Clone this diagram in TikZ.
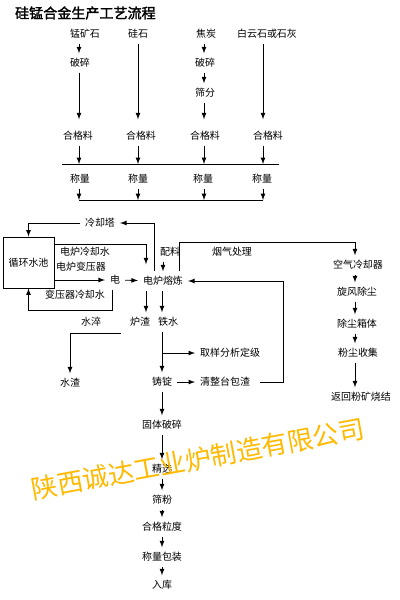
\documentclass[tikz,border=0pt]{standalone}
\usepackage{fontspec}
\setmainfont{Noto Sans CJK SC}[AutoFakeBold=2]
\usetikzlibrary{calc}
\definecolor{markorange}{RGB}{255,185,0}
\begin{document}
\begin{tikzpicture}[x=0.025cm, y=-0.025cm, line width=0.6pt,
  every node/.style={font=\fontsize{7.1}{8}\selectfont},
  pool/.style={draw, minimum width=1.275cm, minimum height=1.275cm}]
\useasboundingbox (0,0) rectangle (400,600);
\node[anchor=west, font=\fontsize{10}{12}\selectfont\bfseries] (title) at (10,13) {硅锰合金生产工艺流程};

% raw materials
\coordinate (c1) at (79,0);
\coordinate (c2) at (138,0);
\coordinate (c3) at (204,0);
\coordinate (c4) at (263,0);
\node (mn) at (85,34) {锰矿石};
\node (gs) at (138,34) {硅石};
\node (jt) at (206,34) {焦炭};
\node (by) at (267,34) {白云石或石灰};
\node (pa) at (80,63) {破碎};
\node (pb) at (205,63) {破碎};
\node (sf) at (205,93) {筛分};
\node (hg1) at (78,136) {合格料};
\node (hg2) at (141,136) {合格料};
\node (hg3) at (205,136) {合格料};
\node (hg4) at (268,136) {合格料};
\draw[-latex] (c1 |- mn.south) -- (c1 |- pa.north);
\draw[-latex] (c1 |- pa.south) -- ($(c1 |- hg1.north)+(0,-7)$);
\draw[-latex] (c2 |- gs.south) -- ($(c2 |- hg2.north)+(0,-7)$);
\draw[-latex] (c3 |- jt.south) -- (c3 |- pb.north);
\draw[-latex] (c3 |- pb.south) -- (c3 |- sf.north);
\draw[-latex] (c3 |- sf.south) -- ($(c3 |- hg3.north)+(0,-7)$);
\draw[-latex] (c4 |- by.south) -- ($(c4 |- hg4.north)+(0,-7)$);

% weighing
\coordinate (b1w) at (62,164);
\coordinate (b1e) at (279,164);
\coordinate (b2w) at (79,200);
\draw (b1w) -- (b1e);
\node (cl1) at (80,179) {称量};
\node (cl2) at (138,179) {称量};
\node (cl3) at (203,179) {称量};
\node (cl4) at (262,179) {称量};
\foreach \n/\c in {hg1/c1,hg2/c2,hg3/c3,hg4/c4}
  \draw[-latex] (\c |- \n.south) -- (\c |- b1w);
\foreach \n/\c in {cl1/c1,cl2/c2,cl3/c3,cl4/c4}
  \draw[-latex] (\c |- \n.south) -- (\c |- b2w);
\draw (b2w) -- (c4 |- b2w);

% furnace and water loop
\node (lqt) at (100,223) {冷却塔};
\node[pool] (pool) at (28.5,262.5) {循环水池};
\node (w1) at (85,252) {电炉冷却水};
\node (w2) at (81,267) {电炉变压器};
\node (w3) at (75,295) {变压器冷却水};
\node (dl) at (115,280) {电};
\node (dlrl) at (163,281) {电炉熔炼};
\node (pl) at (170,252) {配料};
\node (yq) at (232,252) {烟气处理};
\draw[-latex] ($(dlrl.north)+(-9,0)$) |- (lqt.east);
\draw[-latex] (lqt.west) -| (pool.north);
\draw[-latex] ($(pool.north east)+(0,8)$) -| ($(dlrl.north)+(-17,-7)$);
\draw[-latex] (pool.east |- dl) -- (dl.west);
\draw[-latex] (dl) -- (dlrl);
\draw[-latex] ($(dl.south)+(-3,0)$) -- ++(0,21) -| (pool.south);
\draw[-latex] (dlrl.north |- pl.south) -- (dlrl.north);

% dust
\coordinate (c5) at (355,0);
\node (kq) at (358,265) {空气冷却器};
\node (xf) at (357,292) {旋风除尘};
\node (cx) at (357,324) {除尘箱体};
\node (fc) at (358,353) {粉尘收集};
\node (fh) at (361,397) {返回粉矿烧结};
\draw[-latex] ($(dlrl.north)+(16,0)$) -- ++(0,-29) -| (c5 |- kq.north);
\foreach \a/\b in {kq/xf,xf/cx,cx/fc,fc/fh}
  \draw[-latex] (c5 |- \a.south) -- (c5 |- \b.north);

% products
\node (lz) at (140,322) {炉渣};
\node (ts) at (168,322) {铁水};
\node (sc) at (91,322) {水淬};
\node (sz) at (70,383) {水渣};
\node (zd) at (162,382) {铸锭};
\node[anchor=west] (qy) at (195,353) {取样分析定级};
\node[anchor=west] (qz) at (195,382) {清整台包渣};
\draw[-latex] ($(dlrl.south)+(-17,0)$) -- ($(lz.north)+(6,0)$);
\draw[-latex] ($(dlrl.south)+(-1,0)$) -- ($(ts.north)+(-6,0)$);
\draw[-latex] ($(lz.south west)+(-4,2)$) -| (sz.north);
\draw[-latex] ($(ts.south)+(-6,0)$) -- (zd.north);
\draw[-latex] (zd.north |- qy.west) -- (qy.west);
\draw[-latex] (zd.east) -- (qz.west);
\draw[-latex] ($(qz.east)+(5,0)$) -- ++(23,0) |- (dlrl.east);

\node (gt) at (162,425) {固体破碎};
\node (jx) at (162,469) {精选};
\node (sf2) at (162,500) {筛粉};
\node (hgl) at (162,527) {合格粒度};
\node (clbz) at (162,557) {称量包装};
\node (rk) at (162,585) {入库};
\foreach \a/\b in {zd/gt,gt/jx,jx/sf2,sf2/hgl,hgl/clbz,clbz/rk}
  \draw[-latex] (\a) -- (\b);

\node[rotate=10.5, text=markorange, font=\fontsize{18.5}{20}\selectfont] (wm) at (198,459) {陕西诚达工业炉制造有限公司};
\end{tikzpicture}
\end{document}
